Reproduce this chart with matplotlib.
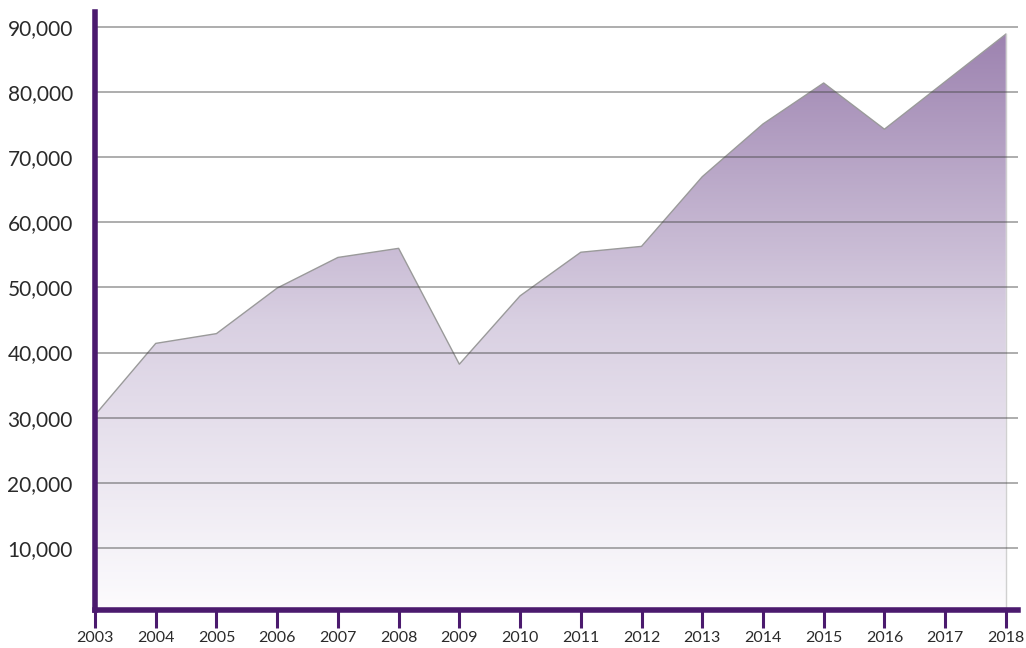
import matplotlib.pyplot as plt
import numpy as np
from matplotlib.colors import LinearSegmentedColormap
from matplotlib.ticker import FuncFormatter

years = [2003, 2004, 2005, 2006, 2007, 2008, 2009, 2010,
         2011, 2012, 2013, 2014, 2015, 2016, 2017, 2018]
values = [30400, 41400, 42900, 49900, 54600, 56000, 38200, 48700,
          55400, 56300, 67000, 75100, 81400, 74300, 81600, 88900]
y_ticks = [10000, 20000, 30000, 40000, 50000, 60000, 70000, 80000, 90000]

PURPLE = '#4b1a6e'

fig = plt.figure(figsize=(10.26, 6.48), dpi=100)
ax = fig.add_axes([95 / 1026, 1 - 610 / 648, 923 / 1026, 598 / 648])

# gradient fill, clipped to the area under the line
cmap = LinearSegmentedColormap.from_list('grad', ['#fdfcfe', '#d9d0e2', '#9d83b0'])
grad = np.linspace(0, 1, 256).reshape(-1, 1)
poly = ax.fill_between(years, values, 0, color='none', lw=0)
img = ax.imshow(grad, cmap=cmap, origin='lower', aspect='auto',
                extent=[years[0], years[-1], 0, max(values)], zorder=1)
img.set_clip_path(poly.get_paths()[0], transform=ax.transData)
ax.plot(years, values, color='#9a9a9a', lw=1, zorder=2)
ax.plot([years[-1], years[-1]], [0, values[-1]], color='#d0d0d0', lw=1, zorder=2)

ax.set_xlim(2003, 2018.2)
ax.set_ylim(450, 92300)

for t in y_ticks:
    ax.axhline(t, color='#444444', alpha=0.55, lw=1.1, zorder=3)

ax.set_yticks(y_ticks)
ax.yaxis.set_major_formatter(FuncFormatter(lambda v, p: f'{int(v):,}'))
ax.tick_params(axis='y', length=0, pad=16, labelsize=15, labelcolor='#2a2a2a')
ax.set_xticks(years)
ax.tick_params(axis='x', length=13, width=2.2, color=PURPLE, pad=2,
               labelsize=11.5, labelcolor='#2a2a2a')

for s in ['top', 'right']:
    ax.spines[s].set_visible(False)
for s in ['left', 'bottom']:
    ax.spines[s].set_color(PURPLE)
    ax.spines[s].set_linewidth(4)
    ax.spines[s].set_zorder(5)

for lbl in ax.get_xticklabels() + ax.get_yticklabels():
    lbl.set_family(['Lato', 'DejaVu Sans'])

plt.savefig('out.png', dpi=100)
